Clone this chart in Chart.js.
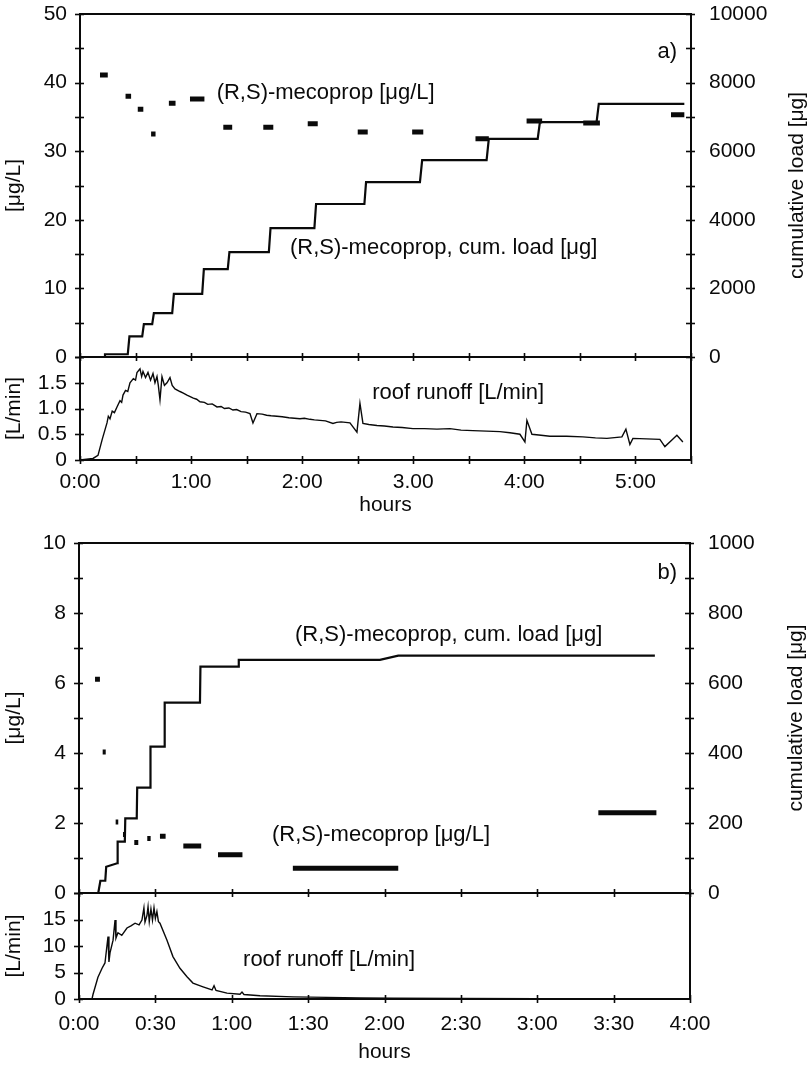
<!DOCTYPE html>
<html>
<head>
<meta charset="utf-8">
<script src="https://cdn.jsdelivr.net/npm/chart.js@4.4.1/dist/chart.umd.min.js"></script>
<style>
  html, body { margin: 0; padding: 0; background: #fff; }
  #page { position: relative; width: 812px; height: 1066px; overflow: hidden; }
  #page canvas { position: absolute; left: 0; }
</style>
</head>
<body>
<div id="page">
  <canvas id="aTop" width="812" height="372" style="top:0px"></canvas>
  <canvas id="aBot" width="812" height="180" style="top:340px"></canvas>
  <canvas id="bTop" width="812" height="375" style="top:530px"></canvas>
  <canvas id="bBot" width="812" height="186" style="top:880px"></canvas>
</div>
<script>
// ---- event a) : sampling intervals (hours) and (R,S)-mecoprop concentration [ug/L]
const concStartA = [0.18, 0.41, 0.52, 0.64, 0.80, 0.99, 1.29, 1.65, 2.05, 2.50, 2.99, 3.56, 4.02, 4.53, 5.32];
const concEndA   = [0.25, 0.46, 0.57, 0.68, 0.86, 1.12, 1.37, 1.74, 2.14, 2.59, 3.09, 3.68, 4.16, 4.68, 5.44];
const concA      = [41.1, 38.0, 36.1, 32.5, 37.0, 37.6, 33.5, 33.5, 34.0, 32.8, 32.8, 31.8, 34.4, 34.1, 35.3];

// cumulative load [ug], vertices of the step curve
const loadTimeA = [0, 0.22, 0.225, 0.43, 0.445, 0.56, 0.575, 0.65, 0.665, 0.83, 0.845, 1.10, 1.115, 1.33, 1.345,
                   1.70, 1.715, 2.11, 2.125, 2.56, 2.575, 3.06, 3.08, 3.66, 3.68, 4.12, 4.14, 4.65, 4.67, 5.44];
const loadA     = [0, 0, 80, 80, 600, 600, 960, 960, 1280, 1280, 1840, 1840, 2560, 2560, 3060,
                   3060, 3760, 3760, 4460, 4460, 5100, 5100, 5740, 5740, 6360, 6360, 6850, 6850, 7380, 7380];

// roof runoff [L/min]
const runTimeA = [0, 0.117, 0.162, 0.20, 0.243, 0.255, 0.27, 0.29, 0.31, 0.333,
                  0.36, 0.375, 0.387, 0.41, 0.43, 0.45, 0.48, 0.50, 0.513, 0.54,
                  0.555, 0.567, 0.59, 0.612, 0.635, 0.657, 0.675, 0.693, 0.705, 0.72,
                  0.738, 0.76, 0.783, 0.81, 0.83, 0.855, 0.9, 0.93, 0.963, 1.02,
                  1.05, 1.08, 1.12, 1.15, 1.19, 1.233, 1.27, 1.30, 1.34, 1.377,
                  1.41, 1.45, 1.49, 1.53, 1.557, 1.593, 1.64, 1.68, 1.72, 1.773,
                  1.82, 1.88, 1.93, 1.98, 2.02, 2.07, 2.11, 2.16, 2.21, 2.277,
                  2.31, 2.35, 2.43, 2.493, 2.52, 2.547, 2.60, 2.673, 2.74, 2.817,
                  2.90, 2.997, 3.10, 3.213, 3.33, 3.43, 3.537, 3.66, 3.78, 3.87,
                  3.96, 4.005, 4.023, 4.068, 4.15, 4.23, 4.38, 4.527, 4.64, 4.743,
                  4.878, 4.914, 4.95, 4.977, 5.10, 5.22, 5.265, 5.328, 5.373, 5.427];
const runA     = [0, 0.03, 0.09, 0.4, 0.72, 0.85, 0.8, 0.95, 0.92, 1.03,
                  1.15, 1.12, 1.26, 1.35, 1.33, 1.5, 1.58, 1.55, 1.7, 1.77,
                  1.62, 1.72, 1.6, 1.7, 1.55, 1.68, 1.5, 1.62, 1.45, 1.17,
                  1.62, 1.45, 1.5, 1.6, 1.45, 1.38, 1.33, 1.30, 1.26, 1.2,
                  1.18, 1.13, 1.12, 1.08, 1.09, 1.03, 1.04, 1.0, 1.01, 0.97,
                  0.98, 0.94, 0.93, 0.9, 0.72, 0.9, 0.89, 0.87, 0.86, 0.85,
                  0.84, 0.82, 0.81, 0.8, 0.81, 0.79, 0.78, 0.77, 0.76, 0.71,
                  0.73, 0.74, 0.72, 0.54, 1.1, 0.71, 0.69, 0.67, 0.66, 0.64,
                  0.63, 0.61, 0.61, 0.6, 0.61, 0.58, 0.57, 0.56, 0.55, 0.53,
                  0.5, 0.35, 0.77, 0.5, 0.48, 0.46, 0.46, 0.45, 0.43, 0.42,
                  0.45, 0.6, 0.3, 0.42, 0.41, 0.4, 0.26, 0.39, 0.48, 0.35];

// ---- event b)
const concStartB = [0.105, 0.155, 0.24, 0.288, 0.362, 0.447, 0.53, 0.683, 0.91, 1.40, 3.40];
const concEndB   = [0.137, 0.175, 0.257, 0.306, 0.388, 0.469, 0.567, 0.80, 1.07, 2.09, 3.78];
const concB      = [6.11, 4.03, 2.03, 1.67, 1.44, 1.56, 1.62, 1.34, 1.09, 0.71, 2.29];

const loadTimeB = [0.126, 0.14, 0.172, 0.178, 0.25, 0.253, 0.30, 0.303, 0.378, 0.381, 0.465, 0.468,
                   0.558, 0.561, 0.792, 0.795, 1.043, 1.046, 1.97, 2.09, 3.77];
const loadB     = [0, 35, 35, 75, 85, 147, 147, 213, 213, 301, 301, 418,
                   418, 544, 544, 647, 647, 666, 666, 678, 678];

const runTimeB = [0, 0.085, 0.092, 0.124, 0.151, 0.17, 0.19, 0.196, 0.203, 0.223,
                  0.236, 0.242, 0.255, 0.28, 0.314, 0.34, 0.367, 0.393, 0.412, 0.425,
                  0.432, 0.445, 0.452, 0.46, 0.471, 0.481, 0.491, 0.5, 0.51, 0.52,
                  0.53, 0.576, 0.615, 0.661, 0.707, 0.746, 0.812, 0.871, 0.884, 0.897,
                  0.969, 1.054, 1.067, 1.08, 1.185, 1.401, 1.624, 1.84, 2.056, 2.5, 3.0, 3.6];
const runB     = [0, 0, 0.9, 4.1, 5.8, 6.8, 11.8, 7.0, 8.7, 11.1,
                  14.9, 11.5, 12.5, 12.0, 13.4, 13.8, 14.3, 14.0, 14.9, 17.2,
                  14.5, 15.8, 17.4, 14.6, 17.0, 14.9, 17.2, 15.2, 16.5, 14.6,
                  14.3, 11.1, 8.0, 5.8, 4.2, 3.0, 2.3, 1.7, 2.5, 1.6,
                  1.1, 0.9, 1.3, 0.85, 0.6, 0.4, 0.3, 0.2, 0.15, 0.1, 0.06, 0.05];

// tick labels of the time axes
const hourLabelsA = ['0:00', '1:00', '2:00', '3.00', '4:00', '5:00'];
const hourLabelsB = ['0:00', '0:30', '1:00', '1:30', '2:00', '2:30', '3:00', '3:30', '4:00'];

const ink = '#0a0a0a';

Chart.defaults.font.family = '"Liberation Sans", Arial, Helvetica, sans-serif';
Chart.defaults.font.size = 21;
Chart.defaults.color = ink;

const pairs = (xs, ys) => xs.map((x, i) => ({ x: x, y: ys[i] }));

// each sample drawn as a short thick horizontal stroke over its interval
const intervals = (starts, ends, vals) => {
  const out = [];
  starts.forEach((s, i) => {
    out.push({ x: s, y: vals[i] }, { x: ends[i], y: vals[i] }, { x: ends[i], y: null });
  });
  return out;
};

// fixed axis size, and no extra room for labels hanging over the plot edges
const fixed = size => scale => {
  if (scale.isHorizontal()) scale.height = size; else scale.width = size;
  scale.paddingTop = 0;
  scale.paddingBottom = 0;
  scale.paddingLeft = 0;
  scale.paddingRight = 0;
};

// frame around the plot area plus ticks crossing the axis lines
const frame = {
  id: 'frame',
  afterDraw(chart, args, opts) {
    const ctx = chart.ctx, a = chart.chartArea;
    ctx.save();
    ctx.strokeStyle = ink;
    ctx.lineWidth = 2;
    ctx.strokeRect(a.left, a.top, a.right - a.left, a.bottom - a.top);
    ctx.lineWidth = 1.6;
    (opts.ticks || []).forEach(id => {
      const s = chart.scales[id];
      s.ticks.forEach(t => {
        const p = Math.round(s.getPixelForValue(t.value)) + 0.5;
        ctx.beginPath();
        if (s.isHorizontal()) {
          ctx.moveTo(p, a.bottom - 4); ctx.lineTo(p, a.bottom + 4);
        } else {
          const x = s.position === 'left' ? a.left : a.right;
          ctx.moveTo(x - 5, p); ctx.lineTo(x + 4, p);
        }
        ctx.stroke();
      });
    });
    ctx.restore();
  }
};

// in-plot labels positioned in data units, and the rotated right-hand axis title
const notes = {
  id: 'notes',
  afterDraw(chart, args, opts) {
    const ctx = chart.ctx, a = chart.chartArea;
    ctx.save();
    ctx.fillStyle = ink;
    ctx.textBaseline = 'middle';
    ctx.font = '22px "Liberation Sans", Arial, sans-serif';
    (opts.items || []).forEach(n => {
      ctx.textAlign = n.align || 'left';
      ctx.fillText(n.text, chart.scales.x.getPixelForValue(n.x), chart.scales.y.getPixelForValue(n.y));
    });
    if (opts.side) {
      ctx.font = '21px "Liberation Sans", Arial, sans-serif';
      ctx.translate(a.right + 106, (a.top + a.bottom) / 2);
      ctx.rotate(-Math.PI / 2);
      ctx.textAlign = 'center';
      ctx.fillText(opts.side, 0, 0);
    }
    ctx.restore();
  }
};

const plain = { grid: { display: false, drawTicks: false }, border: { display: false } };

function timeAxis(max, height, labelFn, tickPad, title) {
  return Object.assign({}, plain, {
    type: 'linear', min: 0, max: max,
    ticks: { stepSize: 0.5, autoSkip: false, maxRotation: 0, padding: tickPad, callback: labelFn },
    title: title ? { display: true, text: 'hours', padding: { top: 0, bottom: title } } : { display: false },
    afterFit: fixed(height)
  });
}

function leftAxis(max, step, labelFn, title, width) {
  return Object.assign({}, plain, {
    position: 'left', min: 0, max: max,
    ticks: { stepSize: step, padding: 13, autoSkip: false, callback: labelFn },
    title: { display: true, text: title, padding: { top: 2, bottom: 0 } },
    afterFit: fixed(width)
  });
}

function rightAxis(max, step, labelFn, width) {
  return Object.assign({}, plain, {
    position: 'right', min: 0, max: max,
    ticks: { stepSize: step, padding: 18, autoSkip: false, callback: labelFn },
    afterFit: fixed(width)
  });
}

function makeChart(id, top, padRight, datasets, scales, tickIds, noteOpts) {
  return new Chart(document.getElementById(id), {
    type: 'line',
    data: { datasets: datasets },
    options: {
      responsive: false,
      animation: false,
      devicePixelRatio: 1,
      parsing: false,
      layout: { padding: { top: top, right: padRight, left: 0, bottom: 0 } },
      elements: { point: { radius: 0 }, line: { tension: 0, borderColor: ink } },
      scales: scales,
      plugins: {
        legend: { display: false },
        tooltip: { enabled: false },
        frame: { ticks: tickIds },
        notes: noteOpts
      }
    },
    plugins: [frame, notes]
  });
}

const blankLabel = () => '';
const labelA = v => Number.isInteger(v) ? hourLabelsA[v] : '';
const labelB = v => hourLabelsB[Math.round(v * 2)];

// a) concentration and cumulative load
makeChart('aTop', 14, 0, [
  { data: intervals(concStartA, concEndA, concA), yAxisID: 'y', borderWidth: 5, spanGaps: false, borderCapStyle: 'butt' },
  { data: pairs(loadTimeA, loadA), yAxisID: 'y2', borderWidth: 2.2 }
], {
  x: timeAxis(5.5, 15, blankLabel, 0, 0),
  y: leftAxis(50, 5, v => v % 10 === 0 ? String(v) : '', '[μg/L]', 80),
  y2: rightAxis(10000, 1000, v => v % 2000 === 0 ? String(v) : '', 121)
}, ['x', 'y', 'y2'], {
  items: [
    { text: '(R,S)-mecoprop [μg/L]', x: 1.23, y: 38.5 },
    { text: '(R,S)-mecoprop, cum. load [μg]', x: 1.89, y: 15.9 },
    { text: 'a)', x: 5.375, y: 44.5, align: 'right' }
  ],
  side: 'cumulative load [μg]'
});

// a) roof runoff
makeChart('aBot', 17, 121, [
  { data: pairs(runTimeA, runA), yAxisID: 'y', borderWidth: 1.4 }
], {
  x: timeAxis(5.5, 60, labelA, 10, 2),
  y: leftAxis(2, 0.5, v => v === 2 ? '' : (v === 0 ? '0' : v.toFixed(1)), '[L/min]', 80)
}, ['x', 'y'], {
  items: [{ text: 'roof runoff [L/min]', x: 2.63, y: 1.30 }]
});

// b) concentration and cumulative load
makeChart('bTop', 13, 0, [
  { data: intervals(concStartB, concEndB, concB), yAxisID: 'y', borderWidth: 5, spanGaps: false, borderCapStyle: 'butt' },
  { data: pairs(loadTimeB, loadB), yAxisID: 'y2', borderWidth: 2.2 }
], {
  x: timeAxis(4, 12, blankLabel, 0, 0),
  y: leftAxis(10, 1, v => v % 2 === 0 ? String(v) : '', '[μg/L]', 79),
  y2: rightAxis(1000, 100, v => v % 200 === 0 ? String(v) : '', 122)
}, ['x', 'y', 'y2'], {
  items: [
    { text: '(R,S)-mecoprop, cum. load [μg]', x: 1.414, y: 7.37 },
    { text: '(R,S)-mecoprop [μg/L]', x: 1.263, y: 1.66 },
    { text: 'b)', x: 3.915, y: 9.14, align: 'right' }
  ],
  side: 'cumulative load [μg]'
});

// b) roof runoff
makeChart('bBot', 13, 122, [
  { data: pairs(runTimeB, runB), yAxisID: 'y', borderWidth: 1.4 }
], {
  x: timeAxis(4, 67, labelB, 13, 1),
  y: leftAxis(20, 5, v => v === 20 ? '' : String(v), '[L/min]', 79)
}, ['x', 'y'], {
  items: [{ text: 'roof runoff [L/min]', x: 1.074, y: 7.4 }]
});
</script>
</body>
</html>
